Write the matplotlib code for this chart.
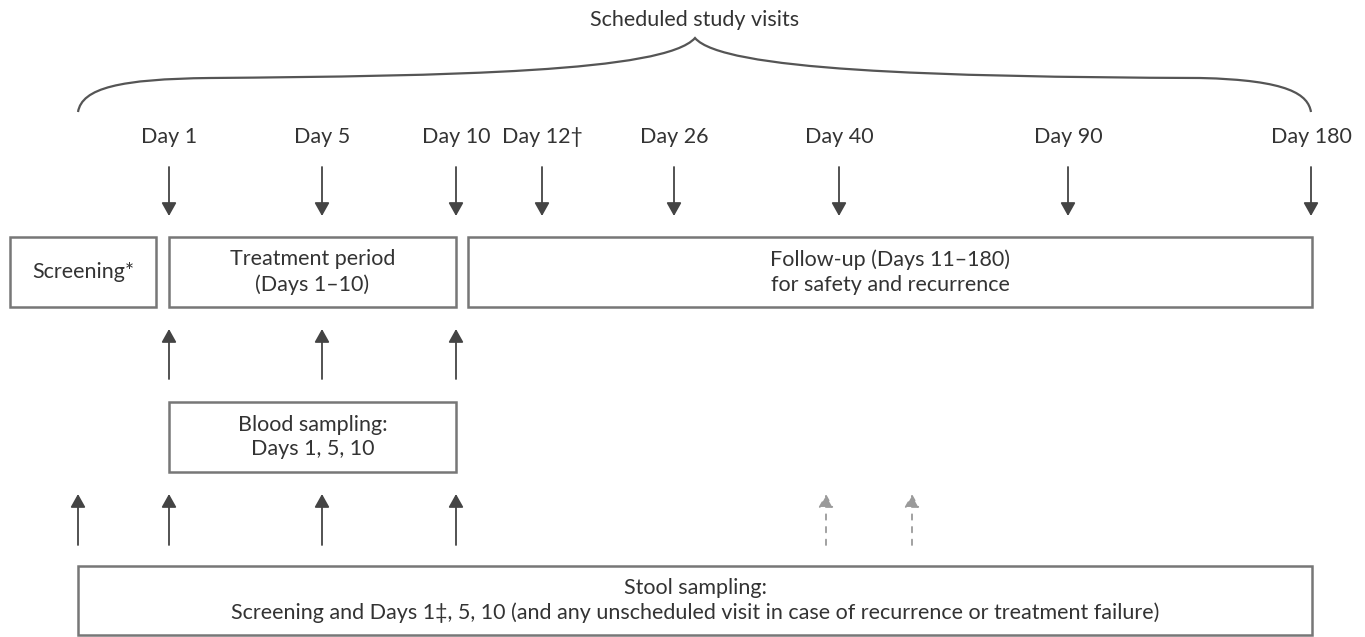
import matplotlib
matplotlib.use("Agg")
import matplotlib.pyplot as plt
from matplotlib.patches import Rectangle, PathPatch, FancyArrowPatch
from matplotlib.path import Path

plt.rcParams["font.family"] = ["Lato", "DejaVu Sans"]

# scheduled visits along the top
visit_labels = ["Day 1", "Day 5", "Day 10", "Day 12\u2020", "Day 26", "Day 40", "Day 90", "Day 180"]
visit_x = [169, 322, 456, 542, 674, 839, 1068, 1311]

# blood sampling arrows (days 1, 5, 10)
blood_x = [169, 322, 456]

# stool sampling arrows: screening, days 1, 5, 10 + unscheduled (dashed)
stool_x = [78, 169, 322, 456]
unsched_x = [826, 912]

# boxes: (x0, y0, x1, y1, text)
boxes = [
    (10, 237, 156, 307, "Screening*"),
    (169, 237, 456, 307, "Treatment period\n(Days 1\u201310)"),
    (468, 237, 1312, 307, "Follow-up (Days 11\u2013180)\nfor safety and recurrence"),
    (169, 402, 456, 472, "Blood sampling:\nDays 1, 5, 10"),
    (78, 566, 1312, 635, "Stool sampling:\nScreening and Days 1\u2021, 5, 10 (and any unscheduled visit in case of recurrence or treatment failure)"),
]

TXT = "#333333"
LINE = "#444444"
BOX = "#777777"
FS = 15.5

fig = plt.figure(figsize=(13.65, 6.37), dpi=100)
ax = fig.add_axes([0, 0, 1, 1])
ax.set_xlim(0, 1365)
ax.set_ylim(637, 0)
ax.axis("off")

ax.text(695, 20, "Scheduled study visits", ha="center", va="center", fontsize=FS, color=TXT)

# curly brace
verts = [(78, 112), (82, 88), (120, 79), (210, 78),
         (450, 76), (665, 72), (695, 38),
         (722, 70), (930, 77), (1200, 78),
         (1290, 80), (1308, 95), (1311, 112)]
codes = [Path.MOVETO] + [Path.CURVE4] * 12
ax.add_patch(PathPatch(Path(verts, codes), fill=False, edgecolor="#555555", lw=1.6))


def arrow(x, y0, y1, color=LINE, ls="-"):
    ax.add_patch(FancyArrowPatch((x, y0), (x, y1), arrowstyle="-|>,head_length=5,head_width=2.8",
                                 mutation_scale=1.6, color=color, lw=1.3, linestyle=ls,
                                 shrinkA=0, shrinkB=0))


for lab, x in zip(visit_labels, visit_x):
    ax.text(x, 137, lab, ha="center", va="center", fontsize=FS, color=TXT)
    arrow(x, 167, 216)

for x in blood_x:
    arrow(x, 379, 329)

for x in stool_x:
    arrow(x, 545, 494)
for x in unsched_x:
    arrow(x, 545, 494, color="#9a9a9a", ls=(0, (3, 4)))

for x0, y0, x1, y1, t in boxes:
    ax.add_patch(Rectangle((x0, y0), x1 - x0, y1 - y0, fill=False, edgecolor=BOX, lw=1.8))
    ax.text((x0 + x1) / 2, (y0 + y1) / 2, t, ha="center", va="center", fontsize=FS,
            color=TXT, linespacing=1.3)

fig.savefig("out.png", dpi=100)
